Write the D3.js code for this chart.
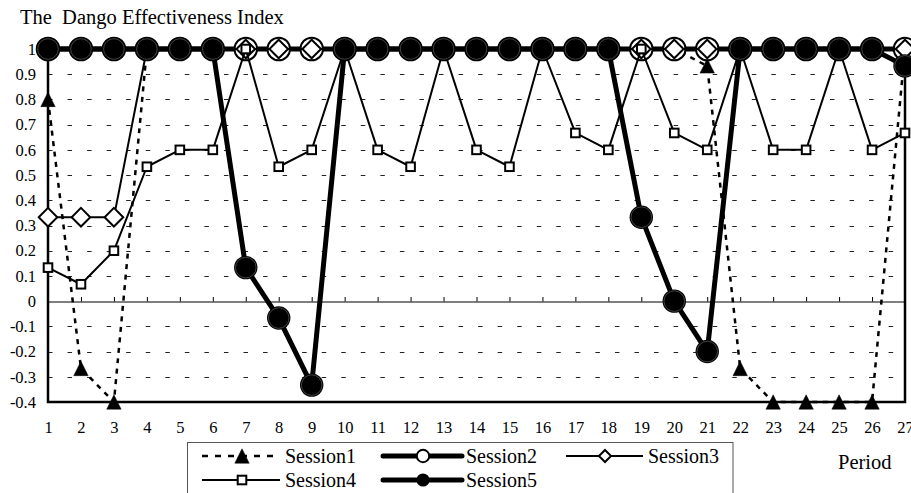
<!DOCTYPE html>
<html>
<head>
<meta charset="utf-8">
<script src="https://cdn.jsdelivr.net/npm/d3@7"></script>
<style>
  html, body { margin: 0; padding: 0; background: #fff; }
  svg { display: block; }
  text { font-family: "Liberation Serif", "Times New Roman", serif; fill: #000; }
</style>
</head>
<body>
<svg id="chart" width="911" height="493"></svg>
<script>
// ---------------- data ----------------
const title = "The  Dango Effectiveness Index";
const xTitle = "Period";
const periods = [1,2,3,4,5,6,7,8,9,10,11,12,13,14,15,16,17,18,19,20,21,22,23,24,25,26,27];
const yTicks = [1,0.9,0.8,0.7,0.6,0.5,0.4,0.3,0.2,0.1,0,-0.1,-0.2,-0.3,-0.4];
const yTickLabels = ["1","0.9","0.8","0.7","0.6","0.5","0.4","0.3","0.2","0.1","0","-0.1","-0.2","-0.3","-0.4"];
const seriesNames = ["Session1","Session2","Session3","Session4","Session5"];
const session1 = [0.8,-0.267,-0.4,1,1,1,1,1,1,1,1,1,1,1,1,1,1,1,1,1,0.933,-0.267,-0.4,-0.4,-0.4,-0.4,1];
const session2 = [1,1,1,1,1,1,1,1,1,1,1,1,1,1,1,1,1,1,1,1,1,1,1,1,1,1,1];
const session3 = [0.333,0.333,0.333,1,1,1,1,1,1,1,1,1,1,1,1,1,1,1,1,1,1,1,1,1,1,1,1];
const session4 = [0.133,0.067,0.2,0.533,0.6,0.6,1,0.533,0.6,1,0.6,0.533,1,0.6,0.533,1,0.667,0.6,1,0.667,0.6,1,0.6,0.6,1,0.6,0.667];
const session5 = [1,1,1,1,1,1,0.133,-0.067,-0.333,1,1,1,1,1,1,1,1,1,0.333,0,-0.2,1,1,1,1,1,0.933];

// ---------------- layout ----------------
const svg = d3.select("#chart");
const pLeft = 48, pRight = 905, pTop = 49, pBottom = 402;

const x = d3.scaleLinear().domain([d3.min(periods), d3.max(periods)]).range([pLeft, pRight]);
const y = d3.scaleLinear().domain([d3.min(yTicks), d3.max(yTicks)]).range([pBottom, pTop]);

// title
svg.append("text").attr("x", 20).attr("y", 24)
  .style("font-size", "20.5px").style("white-space", "pre").text(title);

// gridlines (dashed)
const gridVals = yTicks.filter(v => v !== 0 && v !== d3.max(yTicks) && v !== d3.min(yTicks));
svg.append("g").selectAll("line").data(gridVals).join("line")
  .attr("x1", pLeft).attr("x2", pRight)
  .attr("y1", d => Math.round(y(d)) + 0.5).attr("y2", d => Math.round(y(d)) + 0.5)
  .attr("stroke", "#222").attr("stroke-width", 1)
  .attr("stroke-dasharray", "4.5,15.05");

// zero line with upward ticks
const zeroAxis = d3.axisTop(x).tickValues(periods).tickSizeInner(4.5).tickSizeOuter(0).tickFormat("");
const zg = svg.append("g").attr("transform", `translate(0,${Math.round(y(0)) + 0.5})`).call(zeroAxis);
zg.selectAll("path, line").attr("stroke", "#000").attr("stroke-width", 1);

// y axis labels
const yAxis = d3.axisLeft(y).tickValues(yTicks).tickSize(0).tickPadding(12)
  .tickFormat(d => yTickLabels[yTicks.indexOf(d)]);
const yg = svg.append("g").attr("transform", `translate(${pLeft},0)`).call(yAxis);
yg.select(".domain").remove();
yg.selectAll("text").style("font-family", "Liberation Serif").style("font-size", "16.5px").attr("fill", "#000");

// x axis labels (low position)
const xAxis = d3.axisBottom(x).tickValues(periods).tickSize(0).tickPadding(19).tickFormat(d3.format("d"));
const xg = svg.append("g").attr("transform", `translate(0,${pBottom})`).call(xAxis);
xg.select(".domain").remove();
xg.selectAll("text").style("font-family", "Liberation Serif").style("font-size", "16.5px").attr("fill", "#000");

// plot border
svg.append("rect").attr("x", pLeft).attr("y", pTop).attr("width", pRight - pLeft).attr("height", pBottom - pTop)
  .attr("fill", "none").attr("stroke", "#000").attr("stroke-width", 2.5);

// ---------------- series ----------------
const allSeries = [session1, session2, session3, session4, session5];
const styles = [
  { width: 2.5, dash: "5,5.5", marker: "triangle" },
  { width: 5,   dash: null,    marker: "open" },
  { width: 2,   dash: null,    marker: "diamond" },
  { width: 2,   dash: null,    marker: "square" },
  { width: 5,   dash: null,    marker: "filled" }
];

const line = d3.line().x((d, i) => x(periods[i])).y(d => y(d));

function drawMarker(g, type, cx, cy, scale) {
  const s = scale || 1;
  if (type === "triangle") {
    const h = 7.2 * s;
    g.append("path").attr("d", `M${cx},${cy - h}L${cx + h},${cy + h}L${cx - h},${cy + h}Z`)
      .attr("fill", "#000").attr("stroke", "#000").attr("stroke-width", 0.5);
  } else if (type === "open") {
    g.append("circle").attr("cx", cx).attr("cy", cy).attr("r", 11.3 * s)
      .attr("fill", "#fff").attr("stroke", "#000").attr("stroke-width", 2);
  } else if (type === "diamond") {
    const h = 9.3 * s;
    g.append("path").attr("d", `M${cx},${cy - h}L${cx + h},${cy}L${cx},${cy + h}L${cx - h},${cy}Z`)
      .attr("fill", "#fff").attr("stroke", "#000").attr("stroke-width", 2);
  } else if (type === "square") {
    const h = 4.3 * s;
    g.append("rect").attr("x", cx - h).attr("y", cy - h).attr("width", 2 * h).attr("height", 2 * h)
      .attr("fill", "#fff").attr("stroke", "#000").attr("stroke-width", 2);
  } else if (type === "filled") {
    g.append("circle").attr("cx", cx).attr("cy", cy).attr("r", 11.7 * s).attr("fill", "#000");
    if (s === 1) {
      g.append("circle").attr("cx", cx).attr("cy", cy).attr("r", 10.3)
        .attr("fill", "none").attr("stroke", "#4a4a4a").attr("stroke-width", 0.9);
    }
  }
}

allSeries.forEach((vals, si) => {
  const st = styles[si];
  const g = svg.append("g").attr("class", "series-" + (si + 1));
  g.append("path").datum(vals).attr("d", line)
    .attr("fill", "none").attr("stroke", "#000").attr("stroke-width", st.width)
    .attr("stroke-linejoin", "round")
    .attr("stroke-dasharray", st.dash);
  vals.forEach((v, i) => drawMarker(g, st.marker, x(periods[i]), y(v), 1));
});

// ---------------- legend ----------------
const lg = svg.append("g");
lg.append("rect").attr("x", 187.5).attr("y", 442.5).attr("width", 545.5).attr("height", 70)
  .attr("fill", "#fff").attr("stroke", "#555").attr("stroke-width", 1);

const legendPos = [
  { x1: 202, x2: 280, mx: 242, tx: 285, ly: 456, ty: 463 },
  { x1: 383, x2: 462, mx: 423, tx: 466, ly: 456, ty: 463 },
  { x1: 566, x2: 643, mx: 605, tx: 648, ly: 456, ty: 463 },
  { x1: 202, x2: 280, mx: 242, tx: 285, ly: 480, ty: 487 },
  { x1: 383, x2: 462, mx: 423, tx: 466, ly: 480, ty: 487 }
];
const legendMarkerScale = [1, 0.55, 0.65, 1, 0.56];

seriesNames.forEach((name, si) => {
  const p = legendPos[si], st = styles[si];
  lg.append("line").attr("x1", p.x1).attr("x2", p.x2).attr("y1", p.ly).attr("y2", p.ly)
    .attr("stroke", "#000").attr("stroke-width", st.width)
    .attr("stroke-linecap", st.width > 3 ? "round" : "butt")
    .attr("stroke-dasharray", st.dash ? "6,7" : null);
  drawMarker(lg, st.marker, p.mx, p.ly, legendMarkerScale[si]);
  lg.append("text").attr("x", p.tx).attr("y", p.ty).style("font-size", "20px").text(name);
});

// x-axis title
svg.append("text").attr("x", 838).attr("y", 469).style("font-size", "20.5px").text(xTitle);
</script>
</body>
</html>
